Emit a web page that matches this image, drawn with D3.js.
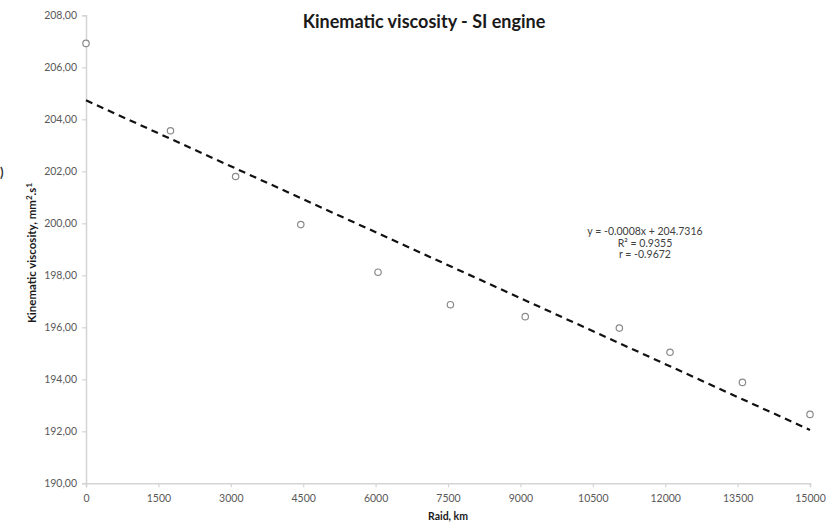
<!DOCTYPE html>
<html>
<head>
<meta charset="utf-8">
<script src="https://cdn.jsdelivr.net/npm/d3@7/dist/d3.min.js"></script>
<style>
  html, body { margin: 0; padding: 0; background: #fff; }
  svg { display: block; }
  text { font-family: Lato, "Open Sans", sans-serif; }
</style>
</head>
<body>
<svg id="chart" width="838" height="523"></svg>
<script>
// ---- Data ----
const raidKm = [0, 1750, 3100, 4450, 6050, 7550, 9100, 11050, 12100, 13600, 15000];
const viscosity = [206.92, 203.56, 201.80, 199.95, 198.12, 196.87, 196.41, 195.97, 195.04, 193.88, 192.65];
const trendX = [0, 15000];
const trendY = [204.73, 192.05];
const xTicks = [0, 1500, 3000, 4500, 6000, 7500, 9000, 10500, 12000, 13500, 15000];
const yTicks = [190, 192, 194, 196, 198, 200, 202, 204, 206, 208];
const equationLines = ["y = -0.0008x + 204.7316", "R² = 0.9355", "r = -0.9672"];
const titleText = "Kinematic viscosity - SI engine";
const xTitle = "Raid, km";

// ---- Layout ----
const svg = d3.select("#chart");
const m = { left: 86 };
const x = d3.scaleLinear().domain([0, 15000]).range([m.left, 810]);
const y = d3.scaleLinear().domain([190, 208]).range([483.3, 15.3]);

const axisColor = "#d4d4d4";
const labelColor = "#595959";

// Y axis
const yAxis = svg.append("g")
  .attr("transform", `translate(${m.left},0)`)
  .call(d3.axisLeft(y).tickValues(yTicks).tickSize(4).tickPadding(5)
    .tickFormat(d => d3.format(".2f")(d).replace(".", ",")));
yAxis.select(".domain").attr("stroke", axisColor).attr("stroke-width", 1.5);
yAxis.selectAll(".tick line").attr("stroke", axisColor).attr("stroke-width", 1.2);
yAxis.selectAll(".tick text").attr("fill", labelColor).attr("font-size", 10.5)
  .style("font-family", "Lato, sans-serif");

// X axis
const xAxis = svg.append("g")
  .attr("transform", `translate(0,${y(190)})`)
  .call(d3.axisBottom(x).tickValues(xTicks).tickSize(4).tickPadding(7)
    .tickFormat(d3.format("d")));
xAxis.select(".domain").attr("stroke", axisColor).attr("stroke-width", 1.5);
xAxis.selectAll(".tick line").attr("stroke", axisColor).attr("stroke-width", 1.2);
xAxis.selectAll(".tick text").attr("fill", labelColor).attr("font-size", 10.5)
  .style("font-family", "Lato, sans-serif");

// Trend line
const line = d3.line().x(d => x(d[0])).y(d => y(d[1]));
svg.append("path")
  .datum(trendX.map((v, i) => [v, trendY[i]]))
  .attr("d", line)
  .attr("fill", "none")
  .attr("stroke", "#111")
  .attr("stroke-width", 2.2)
  .attr("stroke-dasharray", "7,5");

// Points
svg.append("g").selectAll("circle")
  .data(raidKm.map((v, i) => [v, viscosity[i]]))
  .join("circle")
  .attr("cx", d => x(d[0]))
  .attr("cy", d => y(d[1]))
  .attr("r", 3.2)
  .attr("fill", "#fff")
  .attr("stroke", "#8a8a8a")
  .attr("stroke-width", 1.2);

// Title
svg.append("text")
  .attr("x", 424).attr("y", 28)
  .attr("text-anchor", "middle")
  .attr("font-size", 18)
  .attr("font-weight", "bold")
  .attr("fill", "#1a1a1a")
  .text(titleText);

// X title
svg.append("text")
  .attr("x", 448).attr("y", 520)
  .attr("text-anchor", "middle")
  .attr("font-size", 10.5)
  .attr("font-weight", "bold")
  .attr("fill", "#1a1a1a")
  .text(xTitle);

// Y title with superscripts
const yt = svg.append("text")
  .attr("transform", "translate(36,253) rotate(-90)")
  .attr("text-anchor", "middle")
  .attr("font-size", 11.5)
  .attr("font-weight", "bold")
  .attr("fill", "#1a1a1a");
yt.append("tspan").text("Kinematic viscosity, mm");
yt.append("tspan").attr("dy", -4).attr("font-size", 8).text("2");
yt.append("tspan").attr("dy", 4).text(".s");
yt.append("tspan").attr("dy", -4).attr("font-size", 8).text("1");

// Small glyph at left edge
svg.append("text")
  .attr("x", 0).attr("y", 177)
  .attr("font-size", 13)
  .attr("font-weight", "bold")
  .attr("fill", "#333")
  .text(")");

// Equation
svg.append("g").selectAll("text")
  .data(equationLines)
  .join("text")
  .attr("x", 645)
  .attr("y", (d, i) => 235 + i * 11.5)
  .attr("text-anchor", "middle")
  .attr("font-size", 10.5)
  .attr("fill", "#404040")
  .text(d => d);
</script>
</body>
</html>
